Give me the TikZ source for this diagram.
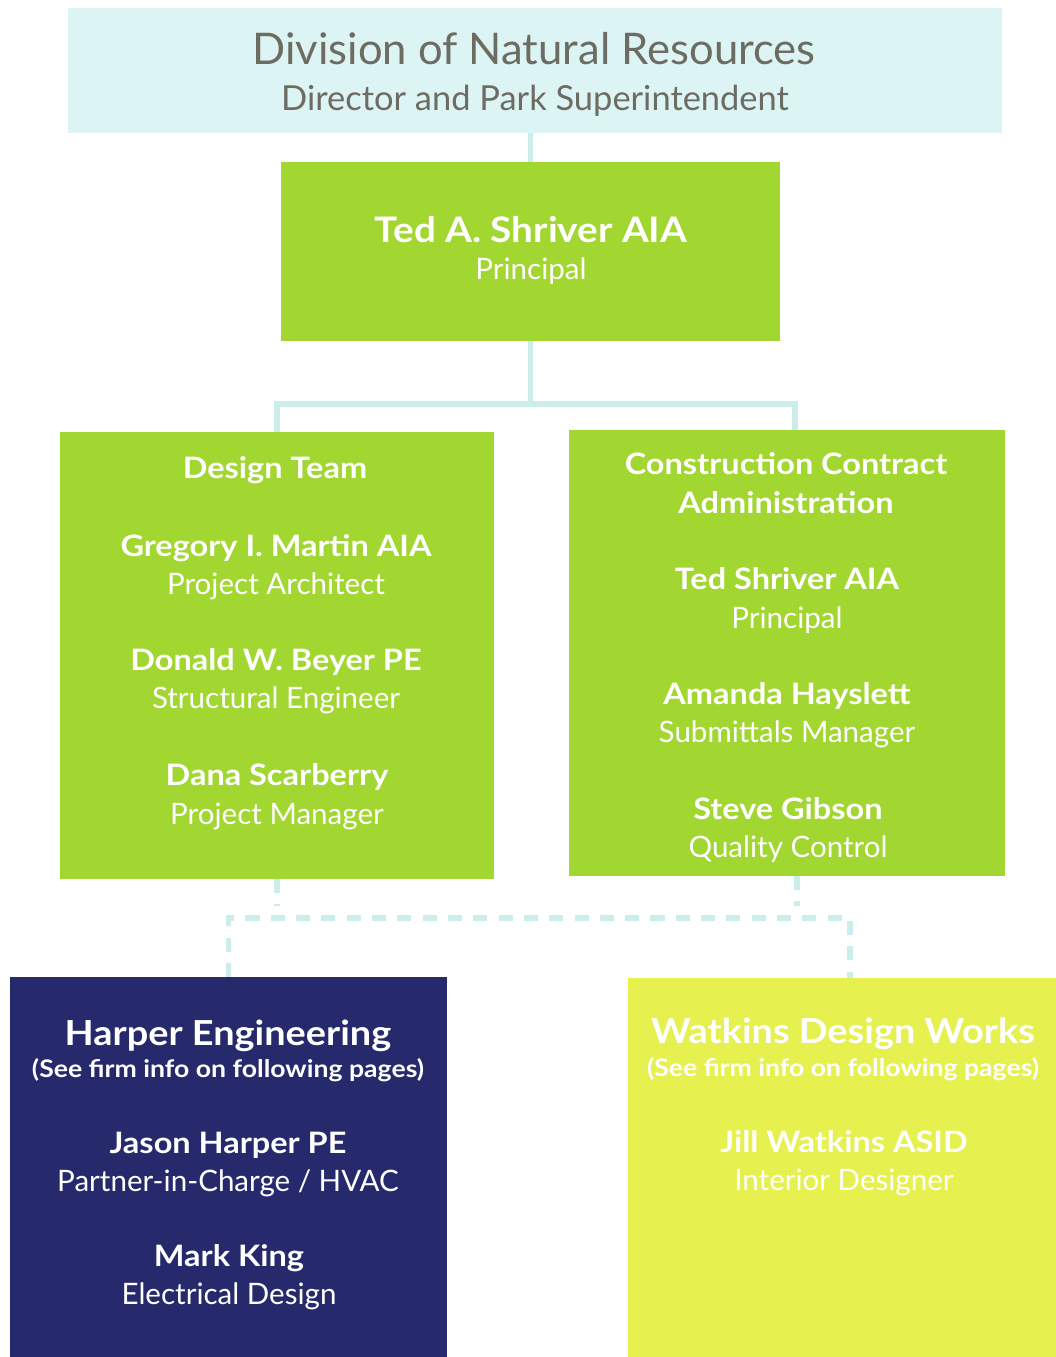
\documentclass[tikz,border=0pt]{standalone}
\usepackage{fontspec}
\setmainfont{Lato}[BoldFeatures={FakeStretch=1.1}]

\definecolor{paleaqua}{HTML}{DDF4F4}
\definecolor{linkaqua}{HTML}{CDEDED}
\definecolor{leafgreen}{HTML}{A2D631}
\definecolor{deepnavy}{HTML}{262A6C}
\definecolor{limeyellow}{HTML}{E6F04E}
\definecolor{stonegray}{HTML}{6C6C62}

\begin{document}
\begin{tikzpicture}
		% one unit is one pixel of the page, y runs downwards
		[x=0.025cm, y=-0.025cm,
		box/.style={inner sep=0pt, outer sep=0pt, anchor=north west},
		link/.style={draw=linkaqua, line width=4pt},
		dashlink/.style={link, dash pattern=on 10pt off 8pt},
		title/.style={anchor=base, text=stonegray, font=\fontsize{31}{36}\selectfont},
		subtitle/.style={anchor=base, text=stonegray, font=\fontsize{24.5}{29}\selectfont},
		firm/.style={anchor=base, text=white, font=\bfseries\fontsize{24.5}{29}\selectfont},
		note/.style={anchor=base, text=white, font=\bfseries\fontsize{17.2}{20}\selectfont},
		who/.style={anchor=base, text=white, font=\bfseries\fontsize{21}{25}\selectfont},
		job/.style={anchor=base, text=white, font=\fontsize{21}{25}\selectfont}]

		\useasboundingbox (0,0) rectangle (1056,1357);

		% The boxes
		\node[box, fill=paleaqua, minimum width=23.35cm, minimum height=3.125cm] (dnr) at (68,8) {};
		\node[box, fill=leafgreen, minimum width=12.475cm, minimum height=4.475cm] (principal) at (281,162) {};
		\node[box, fill=leafgreen, minimum width=10.85cm, minimum height=11.175cm] (design) at (60,432) {};
		\node[box, fill=leafgreen, minimum width=10.9cm, minimum height=11.15cm] (cca) at (569,430) {};
		\node[box, fill=deepnavy, minimum width=10.925cm, minimum height=9.6cm] (harper) at (10,977) {};
		\node[box, fill=limeyellow, minimum width=10.7cm, minimum height=9.6cm] (watkins) at (628,978) {};

		% Solid links
		\coordinate (split) at (533,404);
		\draw[link] (principal.north |- dnr.south) -- (principal.north);
		\draw[link] (principal.south) -- (principal.south |- split);
		\draw[link] (design.north) |- (split) -| ([xshift=0.2cm]cca.north);

		% Dashed links to the consultants
		\coordinate (dashrow) at (0,918);
		\draw[dashlink] (design.south) -- ([yshift=0.3cm]design.south |- dashrow);
		\draw[dashlink] ([xshift=0.25cm]cca.south) -- ([xshift=0.25cm, yshift=0.3cm]cca.south |- dashrow);
		\draw[dashlink] (harper.north) |- ([xshift=0.2cm]watkins.north |- dashrow) -- ([xshift=0.2cm]watkins.north);

		% Texts at the top
		\node[title] (dnr-name) at (534,64) {Division of Natural Resources};
		\node[subtitle] (dnr-role) at (535,110) {Director and Park Superintendent};
		\node[who, font=\bfseries\fontsize{25}{29}\selectfont] (ted-name) at (531,242) {Ted A. Shriver AIA};
		\node[job] (ted-role) at (531,279) {Principal};

		% Design team
		\node[who] (dt-head) at (275,478) {Design Team};
		\node[who] (dt-name1) at (276,556) {Gregory I. Martin AIA};
		\node[job] (dt-role1) at (276,594) {Project Architect};
		\node[who] (dt-name2) at (276,670) {Donald W. Beyer PE};
		\node[job] (dt-role2) at (276,708) {Structural Engineer};
		\node[who] (dt-name3) at (277,785) {Dana Scarberry};
		\node[job] (dt-role3) at (277,824) {Project Manager};

		% Construction contract administration
		\node[who] (ca-head1) at (786,474) {Construction Contract};
		\node[who] (ca-head2) at (786,513) {Administration};
		\node[who] (ca-name1) at (787,589) {Ted Shriver AIA};
		\node[job] (ca-role1) at (787,628) {Principal};
		\node[who] (ca-name2) at (787,704) {Amanda Hayslett};
		\node[job] (ca-role2) at (787,742) {Submittals Manager};
		\node[who] (ca-name3) at (788,819) {Steve Gibson};
		\node[job] (ca-role3) at (788,857) {Quality Control};

		% Harper Engineering
		\node[firm] (he-head) at (228,1045) {Harper Engineering};
		\node[note] (he-note) at (228,1077) {(See firm info on following pages)};
		\node[who] (he-name1) at (228,1153) {Jason Harper PE};
		\node[job] (he-role1) at (228,1191) {Partner-in-Charge / HVAC};
		\node[who] (he-name2) at (229,1266) {Mark King};
		\node[job] (he-role2) at (229,1304) {Electrical Design};

		% Watkins Design Works
		\node[firm] (wd-head) at (843,1043) {Watkins Design Works};
		\node[note] (wd-note) at (843,1076) {(See firm info on following pages)};
		\node[who] (wd-name1) at (844,1152) {Jill Watkins ASID};
		\node[job] (wd-role1) at (844,1190) {Interior Designer};
	\end{tikzpicture}
\end{document}
